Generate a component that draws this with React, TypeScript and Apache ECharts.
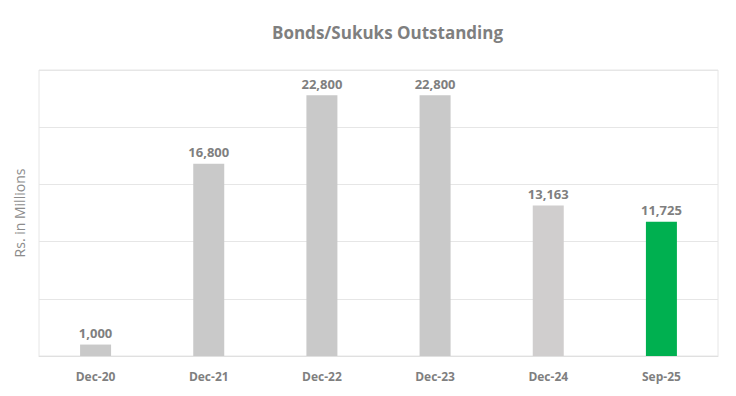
import React, { useEffect, useRef } from "react";
import * as echarts from "echarts";

const categories = ["Dec-20", "Dec-21", "Dec-22", "Dec-23", "Dec-24", "Sep-25"];
const values = [1000, 16800, 22800, 22800, 13163, 11725];
const barColors = ["#C9C9C9", "#C9C9C9", "#C9C9C9", "#C9C9C9", "#D0CECE", "#00B050"];

export default function App() {
  const ref = useRef<HTMLDivElement>(null);
  useEffect(() => {
    if (!ref.current) return;
    const chart = echarts.init(ref.current, null, { renderer: "svg" });
    const font = "'Open Sans', 'Noto Sans', sans-serif";
    chart.setOption({
      animation: false,
      backgroundColor: "#FFFFFF",
      title: {
        text: "Bonds/Sukuks Outstanding",
        left: 267,
        top: 19,
        textStyle: { color: "#7F7F7F", fontSize: 17, fontWeight: "bold", fontFamily: font },
      },
      grid: {
        left: 39,
        right: 18,
        top: 70,
        bottom: 40,
        show: true,
        borderColor: "#E6E6E6",
        borderWidth: 1,
      },
      xAxis: {
        type: "category",
        data: categories,
        axisLine: { show: true, lineStyle: { color: "#E0E0E0" } },
        axisTick: { show: false },
        axisLabel: { color: "#7F7F7F", fontSize: 12, fontWeight: "bold", fontFamily: font, margin: 14 },
      },
      yAxis: {
        type: "value",
        min: 0,
        max: 25000,
        interval: 5000,
        name: "Rs. in Millions",
        nameLocation: "middle",
        nameGap: 13,
        nameTextStyle: { color: "#8C8C8C", fontSize: 14, fontFamily: font },
        axisLabel: { show: false },
        axisLine: { show: false },
        axisTick: { show: false },
        splitLine: { lineStyle: { color: "#E6E6E6" } },
      },
      series: [
        {
          type: "bar",
          data: values.map((v, i) => ({ value: v, itemStyle: { color: barColors[i] } })),
          barWidth: 31,
          label: {
            show: true,
            position: "top",
            distance: 5,
            color: "#7F7F7F",
            fontSize: 13,
            fontWeight: "bold",
            fontFamily: font,
            formatter: (p: any) => Number(p.value).toLocaleString("en-US"),
          },
        },
      ],
    });
    return () => chart.dispose();
  }, []);
  return <div ref={ref} style={{ position: "fixed", left: 0, top: 0, width: 736, height: 396 }} />;
}
